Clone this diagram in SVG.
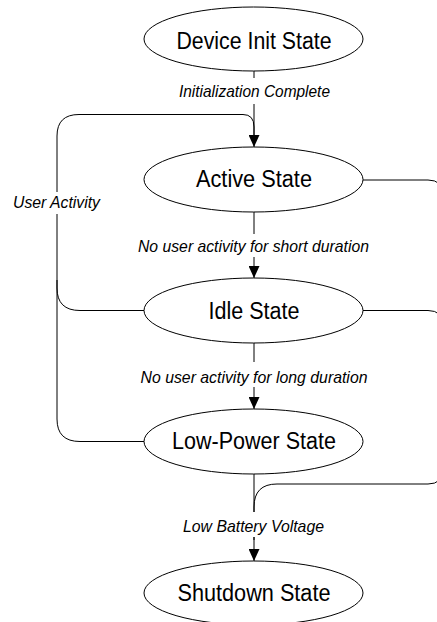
<svg xmlns="http://www.w3.org/2000/svg" width="437" height="622" viewBox="0 0 437 622">
<style>
.node ellipse{fill:#fff;stroke:#000;stroke-width:1}
.node text{font-family:"Liberation Sans",Arial,sans-serif;font-size:23.5px;fill:#000;text-anchor:middle}
.edge{fill:none;stroke:#000;stroke-width:1}
.lbl{font-family:"Liberation Sans",Arial,sans-serif;font-size:17px;font-style:italic;fill:#000;text-anchor:middle}
.bg{fill:#fff}
</style>
<defs>
<marker id="arr" markerUnits="userSpaceOnUse" markerWidth="12" markerHeight="11" refX="12" refY="5.5" orient="auto">
<path d="M0,0 L12,5.5 L0,11 z" fill="#000"/>
</marker>
</defs>
<g id="connectors">
<path class="edge" d="M254,71 V147" marker-end="url(#arr)"/>
<path class="edge" d="M144,441.5 H80 Q57,441.5 57,419 V136 Q57,114.5 79,114.5 H243 Q254,114.5 254,127 V140"/>
<path class="edge" d="M144,310.5 H80 Q57,310.5 57,288 V280"/>
<path class="edge" d="M254,212 V278" marker-end="url(#arr)"/>
<path class="edge" d="M254,343 V409" marker-end="url(#arr)"/>
<path class="edge" d="M254,474 V561" marker-end="url(#arr)"/>
<path class="edge" d="M363,180 H428 Q443,180 443,195 V469 Q443,484 428,484 H277 Q254,484 254,507 V540"/>
<path class="edge" d="M363,310.5 H428 Q443,310.5 443,325.5 V400"/>
<rect class="bg" x="177" y="78" width="155" height="26"/>
<text class="lbl" x="254.5" y="96.5" textLength="151" lengthAdjust="spacingAndGlyphs">Initialization Complete</text>
<rect class="bg" x="11" y="192" width="91" height="22"/>
<text class="lbl" x="56.5" y="207.5" textLength="87" lengthAdjust="spacingAndGlyphs">User Activity</text>
<rect class="bg" x="136" y="234" width="235" height="23"/>
<text class="lbl" x="253.5" y="252" textLength="231" lengthAdjust="spacingAndGlyphs">No user activity for short duration</text>
<rect class="bg" x="139" y="362" width="231" height="25"/>
<text class="lbl" x="254" y="382.7" textLength="227" lengthAdjust="spacingAndGlyphs">No user activity for long duration</text>
<rect class="bg" x="181" y="512" width="145" height="25"/>
<text class="lbl" x="253.5" y="531.5" textLength="141" lengthAdjust="spacingAndGlyphs">Low Battery Voltage</text>
</g>
<g id="device-init" class="node">
<ellipse cx="253.5" cy="39" rx="109.5" ry="32"/>
<text x="254" y="49.3" textLength="155" lengthAdjust="spacingAndGlyphs">Device Init State</text>
</g>
<g id="active" class="node">
<ellipse cx="253.5" cy="179.5" rx="109.5" ry="32.5"/>
<text x="254" y="186.7" textLength="116" lengthAdjust="spacingAndGlyphs">Active State</text>
</g>
<g id="idle" class="node">
<ellipse cx="253.5" cy="310.5" rx="109.5" ry="32.5"/>
<text x="254" y="318.5" textLength="91" lengthAdjust="spacingAndGlyphs">Idle State</text>
</g>
<g id="low-power" class="node">
<ellipse cx="253.5" cy="441.5" rx="109.5" ry="32.5"/>
<text x="254" y="449.3" textLength="164" lengthAdjust="spacingAndGlyphs">Low-Power State</text>
</g>
<g id="shutdown" class="node">
<ellipse cx="253.5" cy="593" rx="109.5" ry="32"/>
<text x="254" y="601" textLength="153" lengthAdjust="spacingAndGlyphs">Shutdown State</text>
</g>
</svg>
